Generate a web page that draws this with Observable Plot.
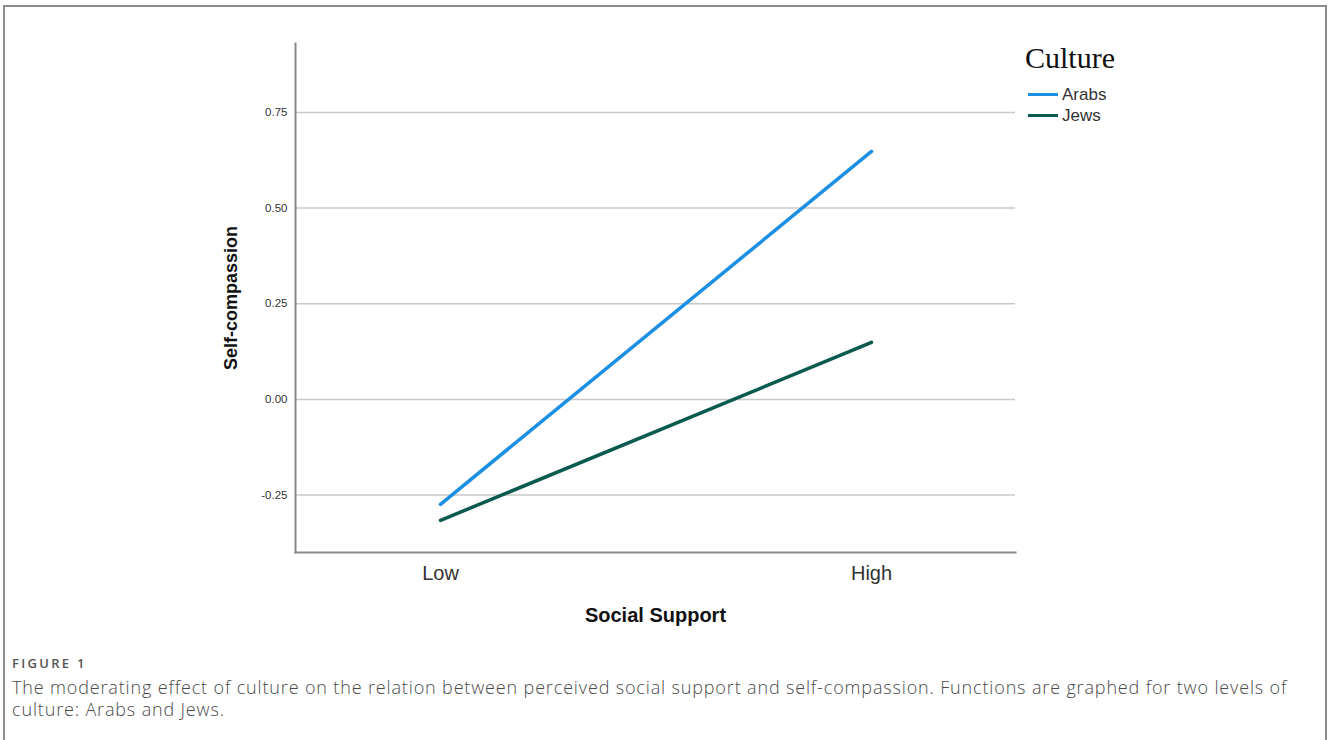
<!DOCTYPE html>
<html><head><meta charset="utf-8">
<script src="https://cdn.jsdelivr.net/npm/d3@7"></script>
<script src="https://cdn.jsdelivr.net/npm/@observablehq/plot@0.6"></script>
<style>
body{margin:0;background:#fff;width:1328px;height:740px;overflow:hidden;position:relative;font-family:"Liberation Sans",Arial,sans-serif}
#frame{position:absolute;left:3px;top:5px;width:1324px;height:800px;border:2px solid #8c8c8c;box-sizing:border-box}
#chart{position:absolute;left:0;top:0}
#chart svg{font-family:"Liberation Sans",Arial,sans-serif}
g[aria-label="y-axis label"] text{font-weight:bold;font-size:18px;fill:#111}
g[aria-label="x-axis label"] text{font-weight:bold;font-size:20px;fill:#111}
g[aria-label="y-axis tick label"]{font-size:11.5px;fill:#333}
g[aria-label="y-axis tick label"] text{fill:#333}
g[aria-label="x-axis tick label"]{font-size:20px;fill:#333}
#legend{position:absolute;left:1025px;top:40px}
#legend .title{font-family:"Liberation Serif","DejaVu Serif",serif;font-size:30px;color:#111;line-height:36px;margin-bottom:8px}
#legend .item{display:flex;align-items:center;height:21px;font-size:17px;color:#333}
#legend .sw{width:30px;height:3px;margin:0 4px 0 3px}
#caption{position:absolute;left:12px;top:654px;font-family:"Open Sans",sans-serif;color:#4a4a4a}
#caption .fig{font-size:13px;font-weight:600;color:#555;letter-spacing:2.3px;margin-bottom:4px}
#caption .txt{font-size:18px;line-height:22px;font-weight:300;letter-spacing:0.85px;white-space:nowrap}
</style>
</head><body>
<div id="frame"></div>
<div id="chart"></div>
<div id="legend"></div>
<div id="caption"></div>
<script>
const supportLevels = ["Low", "High"];
const cultures = ["Arabs", "Jews"];
const arabsValues = [-0.274, 0.648];
const jewsValues = [-0.316, 0.149];
const cultureColors = ["#1b8fe3", "#0b5a4f"];
const yTicks = [-0.25, 0, 0.25, 0.5, 0.75];
const yDomain = [-0.40, 0.93];
const legendTitle = "Culture";
const xLabel = "Social Support";
const yLabel = "Self-compassion";
const figureLabel = "FIGURE 1";
const captionLines = [
  "The moderating effect of culture on the relation between perceived social support and self-compassion. Functions are graphed for two levels of",
  "culture: Arabs and Jews."
];

const seriesValues = {Arabs: arabsValues, Jews: jewsValues};
const rows = cultures.flatMap(c => supportLevels.map((s, i) => ({culture: c, support: s, value: seriesValues[c][i]})));

const chart = Plot.plot({
  width: 1328,
  height: 640,
  marginLeft: 295,
  marginRight: 313,
  marginTop: 43,
  marginBottom: 88,
  x: {type: "point", domain: supportLevels, padding: 0.334},
  y: {domain: yDomain},
  color: {domain: cultures, range: cultureColors},
  marks: [
    Plot.gridY(yTicks, {stroke: "#c8c8c8", strokeOpacity: 1, strokeWidth: 1.5}),
    Plot.frame({anchor: "left", stroke: "#8a8a8a", strokeWidth: 2}),
    Plot.frame({anchor: "bottom", stroke: "#8a8a8a", strokeWidth: 2}),
    Plot.axisY(yTicks, {tickSize: 0, tickPadding: 8, tickFormat: d => d.toFixed(2), label: yLabel, labelAnchor: "center", labelOffset: 71, labelArrow: "none"}),
    Plot.axisX({tickSize: 0, tickPadding: 13, label: xLabel, labelAnchor: "center", labelOffset: 69, labelArrow: "none"}),
    Plot.line(rows, {x: "support", y: "value", z: "culture", stroke: "culture", strokeWidth: 3.5})
  ]
});
document.getElementById("chart").appendChild(chart);

const lg = document.getElementById("legend");
lg.innerHTML = `<div class="title">${legendTitle}</div>` + cultures.map((c, i) =>
  `<div class="item"><span class="sw" style="background:${cultureColors[i]}"></span>${c}</div>`).join("");

document.getElementById("caption").innerHTML =
  `<div class="fig">${figureLabel}</div>` + captionLines.map(l => `<div class="txt">${l}</div>`).join("");
</script>
</body></html>
